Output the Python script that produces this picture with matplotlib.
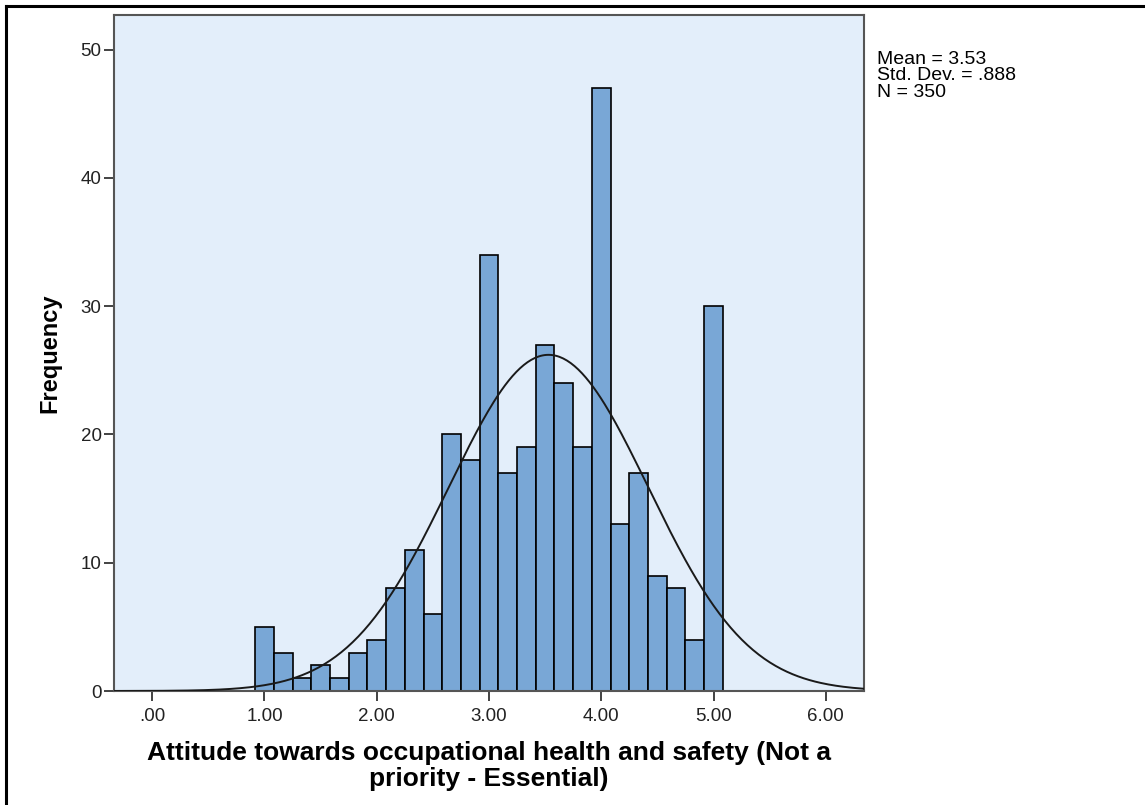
import matplotlib.pyplot as plt
import numpy as np
from matplotlib.lines import Line2D

# Histogram counts (bins of width 1/6, centred on k/6)
bin_start = 1 - 1 / 12
bin_width = 1 / 6
counts = [5, 3, 1, 2, 1, 3, 4, 8, 11, 6, 20, 18, 34, 17, 19, 27, 24, 19, 47, 13, 17, 9, 8, 4, 30]
mean, sd, n = 3.53, 0.888, 350

xticks = [0, 1, 2, 3, 4, 5, 6]
xticklabels = ['.00', '1.00', '2.00', '3.00', '4.00', '5.00', '6.00']
yticks = [0, 10, 20, 30, 40, 50]

plt.rcParams['font.family'] = ['Liberation Sans', 'DejaVu Sans']

fig = plt.figure(figsize=(11.45, 8.05), dpi=100)
ax = fig.add_axes([114 / 1145, 1 - 691 / 805, 750 / 1145, 676 / 805])
ax.set_facecolor('#E3EEFA')

edges = bin_start + bin_width * np.arange(len(counts))
ax.bar(edges, counts, width=bin_width, align='edge', color='#79A7D6',
       edgecolor='black', linewidth=1.2, zorder=2)

# normal curve scaled to counts
xs = np.linspace(-0.34, 6.34, 400)
ys = n * bin_width * np.exp(-0.5 * ((xs - mean) / sd) ** 2) / (sd * np.sqrt(2 * np.pi))
ax.plot(xs, ys, color='#1a1a1a', linewidth=1.4, zorder=3)

ax.set_xlim(-0.34, 6.34)
ax.set_ylim(0, 52.7)
ax.set_xticks(xticks)
ax.set_xticklabels(xticklabels)
ax.set_yticks(yticks)
ax.tick_params(axis='both', direction='out', length=7, width=1.2, labelsize=13.5,
               colors='#222222', pad=2)
ax.tick_params(axis='x', pad=5)
for s in ax.spines.values():
    s.set_color('#555555')
    s.set_linewidth(1.5)

ax.set_ylabel('Frequency', fontsize=17, fontweight='bold', labelpad=14)
ax.set_xlabel('Attitude towards occupational health and safety (Not a\npriority - Essential)',
              fontsize=19, fontweight='bold', labelpad=12, linespacing=1.08)

fig.text(877 / 1145, 1 - 51 / 805, 'Mean = 3.53\nStd. Dev. = .888\nN = 350',
         fontsize=14, va='top', ha='left', linespacing=0.95)

# outer frame (top and left visible)
fig.add_artist(Line2D([6 / 1145, 1], [1 - 6 / 805, 1 - 6 / 805], color='black', linewidth=2.2))
fig.add_artist(Line2D([6 / 1145, 6 / 1145], [0, 1 - 6 / 805], color='black', linewidth=2.2))

fig.savefig('out.png', dpi=100)
